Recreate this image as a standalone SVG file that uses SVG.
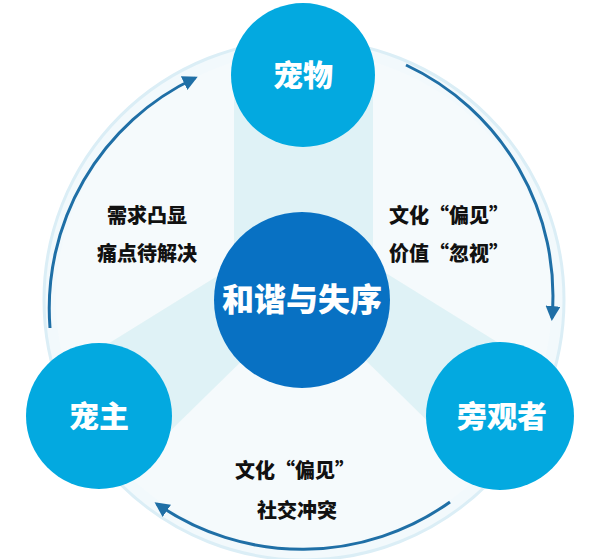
<svg xmlns="http://www.w3.org/2000/svg" width="600" height="559" viewBox="0 0 600 559">
<defs>
<marker id="ah" viewBox="0 0 10 10" refX="8" refY="5" markerWidth="5" markerHeight="5" orient="auto"><path d="M0,0 L10,5 L0,10 z" fill="#1f6fa6"/></marker>
</defs>
<style>
.node{fill:#03a9e0}
.nt{font-family:"Noto Sans CJK SC",sans-serif;font-weight:900;fill:#fff;text-anchor:middle}
.lb{font-family:"Noto Sans CJK SC",sans-serif;font-weight:900;fill:#111;font-size:20px}
.arc{fill:none;stroke:#1f6fa6;stroke-width:3;marker-end:url(#ah)}
.band{fill:#d9f0f4;opacity:0.8}
</style>
<rect width="600" height="559" fill="#fff"/>
<circle cx="304" cy="300" r="260" fill="#f2f9fc" stroke="#dbeef6" stroke-width="3"/>
<circle cx="304" cy="300" r="248" fill="#f5fafc"/>
<g id="bands">
<rect x="234" y="78" width="139" height="222" class="band"/>
<polygon points="304,300 240,262 90,355 112,488" class="band"/>
<polygon points="304,300 368,262 518,355 496,488" class="band"/>
</g>
<g id="connectors">
<path class="arc" d="M50,328 A255,255 0 0 1 195,78"/>
<path class="arc" d="M406,65 A255,255 0 0 1 552,318"/>
<path class="arc" d="M450,502 A255,255 0 0 1 157,504"/>
</g>
<g id="n-pet"><circle cx="303" cy="75" r="72" class="node"/><text x="303" y="86" class="nt" font-size="30">宠物</text></g>
<g id="n-owner"><circle cx="99" cy="416" r="73" class="node"/><text x="99" y="427" class="nt" font-size="30">宠主</text></g>
<g id="n-by"><circle cx="500" cy="416" r="74" class="node"/><text x="502" y="427" class="nt" font-size="30">旁观者</text></g>
<g id="n-center"><circle cx="302" cy="300" r="88" class="node" style="fill:#0871c3"/><text x="302" y="311" class="nt" font-size="32">和谐与失序</text></g>
<g id="labels">
<text x="147" y="223" class="lb" text-anchor="middle">需求凸显</text>
<text x="147" y="261" class="lb" text-anchor="middle">痛点待解决</text>
<text x="389" y="223" class="lb">文化“偏见”</text>
<text x="389" y="261" class="lb">价值“忽视”</text>
<text x="295" y="478" class="lb" text-anchor="middle">文化“偏见”</text>
<text x="297" y="518" class="lb" text-anchor="middle">社交冲突</text>
</g>
</svg>
